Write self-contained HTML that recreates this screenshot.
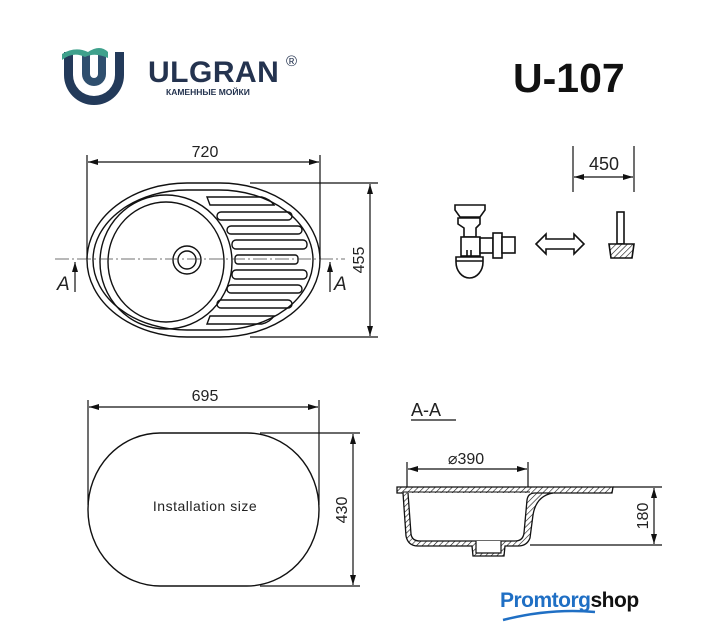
<!DOCTYPE html>
<html><head><meta charset="utf-8"><style>
html,body{margin:0;padding:0;background:#fff;}
svg{display:block;}
.t{font-family:"Liberation Sans",sans-serif;fill:#222;}
</style></head><body>
<svg width="707" height="640" viewBox="0 0 707 640" xmlns="http://www.w3.org/2000/svg">
<defs>
<marker id="ar" viewBox="0 0 10 6" refX="10" refY="3" markerWidth="10" markerHeight="6" orient="auto-start-reverse" markerUnits="userSpaceOnUse"><path d="M0,0 L10,3 L0,6 z" fill="#111"/></marker>
<pattern id="h" width="4" height="4" patternUnits="userSpaceOnUse" patternTransform="rotate(45)"><rect width="4" height="4" fill="#fff"/><line x1="0" y1="0" x2="0" y2="4" stroke="#111" stroke-width="1.2"/></pattern>
</defs>

<!-- Logo -->
<path d="M64,52 L64,75 A30,30 0 0 0 124,75 L124,52 L115,52 L115,75 A21,21 0 0 1 73,75 L73,52 Z" fill="#233a5a"/>
<path d="M82,52 L82,74 A12,12 0 0 0 106,74 L106,52 L98,52 L98,74 A4,4 0 0 1 90,74 L90,52 Z" fill="#2f4f6e"/>
<path d="M62,54 Q75,46 88,52 Q100,44 108,52 L108,58 Q95,52 85,57 Q73,51 62,60 Z" fill="#3fa18c"/>
<text x="148" y="82" class="t" style="font-size:30px;font-weight:bold;fill:#24334f;letter-spacing:0.5px">ULGRAN</text>
<text x="286" y="66" class="t" style="font-size:15px;fill:#24334f">®</text>
<text x="166" y="95" style="font-family:'Liberation Sans',sans-serif;font-size:8.5px;font-weight:bold;fill:#24334f">КАМЕННЫЕ МОЙКИ</text>
<text x="513" y="92" class="t" style="font-size:41px;font-weight:bold;fill:#111">U-107</text>

<!-- Top sink -->
<g fill="none" stroke="#111" stroke-width="1.4">
<rect x="87" y="183" width="233" height="154" rx="100" ry="77"/>
<rect x="93" y="190" width="220" height="140" rx="94" ry="70"/>
<ellipse cx="166" cy="262" rx="66" ry="67"/>
<ellipse cx="166" cy="262" rx="58" ry="60"/>
<circle cx="187" cy="260" r="14"/>
<circle cx="187" cy="260" r="9"/>
<path d="M207,197 L262,197 Q270,199 274,205 L210,205 Z"/>
<rect x="217" y="212" width="75" height="8" rx="4"/>
<rect x="227" y="226" width="75" height="8" rx="4"/>
<rect x="232" y="240" width="75" height="9" rx="4"/>
<rect x="235" y="255" width="63" height="9" rx="3"/>
<rect x="232" y="270" width="75" height="9" rx="4"/>
<rect x="227" y="285" width="75" height="8" rx="4"/>
<rect x="217" y="300" width="75" height="8" rx="4"/>
<path d="M210,316 L274,316 Q270,322 262,324 L207,324 Z"/>
</g>
<line x1="55" y1="259" x2="345" y2="259" stroke="#444" stroke-width="0.8" stroke-dasharray="14,3,2,3"/>
<g stroke="#111" stroke-width="1.2" fill="none">
<line x1="87" y1="155" x2="87" y2="259"/>
<line x1="320" y1="155" x2="320" y2="259"/>
<line x1="88" y1="162" x2="319" y2="162" marker-start="url(#ar)" marker-end="url(#ar)"/>
<line x1="250" y1="183" x2="378" y2="183"/>
<line x1="250" y1="337" x2="378" y2="337"/>
<line x1="370" y1="184" x2="370" y2="336" marker-start="url(#ar)" marker-end="url(#ar)"/>
<line x1="75" y1="292" x2="75" y2="262" marker-end="url(#ar)"/>
<line x1="330" y1="292" x2="330" y2="262" marker-end="url(#ar)"/>
</g>
<text x="205" y="157" text-anchor="middle" class="t" style="font-size:16px">720</text>
<text transform="translate(364,260) rotate(-90)" text-anchor="middle" class="t" style="font-size:16px">455</text>
<text x="57" y="290" class="t" style="font-size:19px;font-style:italic">A</text>
<text x="334" y="290" class="t" style="font-size:19px;font-style:italic">A</text>

<!-- 450 -->
<g stroke="#111" stroke-width="1.2" fill="none">
<line x1="573" y1="146" x2="573" y2="192"/>
<line x1="634" y1="146" x2="634" y2="192"/>
<line x1="574" y1="177" x2="633" y2="177" marker-start="url(#ar)" marker-end="url(#ar)"/>
</g>
<text x="604" y="170" text-anchor="middle" class="t" style="font-size:18px">450</text>

<!-- siphon -->
<g stroke="#111" stroke-width="1.6" fill="#fff">
<path d="M455,205 L485,205 L485,210 L480,217 L460,217 L455,210 Z"/>
<path d="M458,218 L480,218 L480,224 L476,228 L476,237 L464,237 L464,228 L458,224 Z"/>
<rect x="461" y="237" width="19" height="19"/>
<rect x="480" y="238" width="13" height="15"/>
<rect x="493" y="233" width="9" height="25"/>
<rect x="502" y="237" width="13" height="16"/>
<path d="M456,257 L483,257 L483,262 A13.5,16 0 0 1 456,262 Z"/>
<line x1="456" y1="261" x2="483" y2="261"/>
<line x1="467" y1="250" x2="467" y2="256"/>
<line x1="471" y1="250" x2="471" y2="256"/>
</g>
<path d="M536,244 L546,234 L546,239 L574,239 L574,234 L584,244 L574,254 L574,249 L546,249 L546,254 Z" fill="none" stroke="#111" stroke-width="1.6"/>
<g stroke="#111" stroke-width="1.6" fill="none">
<rect x="617" y="212" width="7" height="32"/>
<path d="M609,244 L634,244 L632,258 L611,258 Z" fill="url(#h)"/>
</g>

<!-- installation -->
<rect x="88" y="433" width="231" height="153" rx="72" ry="76" fill="none" stroke="#111" stroke-width="1.4"/>
<text x="205" y="511" text-anchor="middle" class="t" style="font-size:14px;letter-spacing:0.5px">Installation size</text>
<g stroke="#111" stroke-width="1.2" fill="none">
<line x1="88" y1="400" x2="88" y2="505"/>
<line x1="319" y1="400" x2="319" y2="505"/>
<line x1="89" y1="407" x2="318" y2="407" marker-start="url(#ar)" marker-end="url(#ar)"/>
<line x1="260" y1="433" x2="360" y2="433"/>
<line x1="260" y1="586" x2="360" y2="586"/>
<line x1="353" y1="434" x2="353" y2="585" marker-start="url(#ar)" marker-end="url(#ar)"/>
</g>
<text x="205" y="401" text-anchor="middle" class="t" style="font-size:16px">695</text>
<text transform="translate(347,510) rotate(-90)" text-anchor="middle" class="t" style="font-size:16px">430</text>

<!-- section -->
<text x="411" y="416" class="t" style="font-size:18px">A-A</text>
<line x1="411" y1="420" x2="456" y2="420" stroke="#111" stroke-width="1.2"/>
<g stroke="#111" stroke-width="1.2" fill="none">
<line x1="407" y1="462" x2="407" y2="488"/>
<line x1="528" y1="462" x2="528" y2="488"/>
<line x1="408" y1="469" x2="527" y2="469" marker-start="url(#ar)" marker-end="url(#ar)"/>
</g>
<text x="466" y="464" text-anchor="middle" class="t" style="font-size:16px">⌀390</text>
<path d="M397,487 L613,487 L612,493 L553,493 Q536,496 533,515 L530,538 Q527,546 518,546 L505,546 L504,556 L473,556 L472,546 L418,546 Q408,546 406,536 L403,493 L397,493 Z" fill="url(#h)" stroke="#111" stroke-width="1.3"/>
<path d="M408,493 L411,534 Q412,541 420,541 L515,541 Q523,541 524,533 L527,500 Q528,493 535,493 L553,493" fill="#fff" stroke="#111" stroke-width="1.3"/>
<path d="M476,541 L476,553 L501,553 L501,541" fill="#fff" stroke="#111" stroke-width="1.2"/>
<line x1="403" y1="492" x2="530" y2="492" stroke="#111" stroke-width="1"/>
<g stroke="#111" stroke-width="1.2" fill="none">
<line x1="613" y1="487" x2="662" y2="487"/>
<line x1="530" y1="545" x2="662" y2="545"/>
<line x1="654" y1="488" x2="654" y2="544" marker-start="url(#ar)" marker-end="url(#ar)"/>
</g>
<text transform="translate(648,516) rotate(-90)" text-anchor="middle" class="t" style="font-size:16px">180</text>

<!-- promtorg -->
<text x="500" y="607" style="font-family:'Liberation Sans',sans-serif;font-size:21px;font-weight:bold;fill:#1f6fc4;letter-spacing:-0.5px">Promtorg<tspan style="fill:#111">shop</tspan></text>
<path d="M503,620 Q550,608 595,612" stroke="#1f6fc4" stroke-width="2.5" fill="none"/>
</svg>
</body></html>
